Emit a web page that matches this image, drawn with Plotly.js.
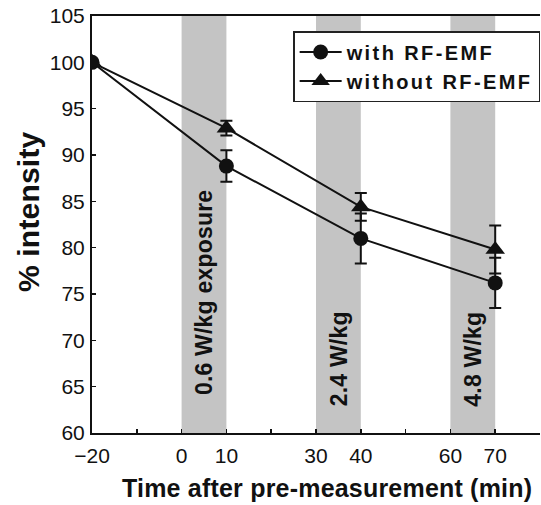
<!DOCTYPE html>
<html>
<head>
<meta charset="utf-8">
<script src="https://cdn.plot.ly/plotly-3.0.1.min.js"></script>
<style>
html, body { margin: 0; padding: 0; background: #fff; }
#chart { width: 541px; height: 505px; }
.legendtext { letter-spacing: 2.4px; }
.annotation-text { letter-spacing: 0.2px; }
</style>
</head>
<body>
<div id="chart"></div>
<script>
// Data
const times = [-20, 10, 40, 70];
const withRF = [100, 88.8, 81.0, 76.2];
const withRFErr = [0, 1.7, 2.7, 2.7];
const withoutRF = [100, 92.9, 84.4, 79.8];
const withoutRFErr = [0, 0.8, 1.5, 2.6];

const exposureStart = [0, 30, 60];
const exposureEnd = [10, 40, 70];
const exposureLabels = ['0.6 W/kg exposure', '2.4 W/kg', '4.8 W/kg'];
const exposureLabelY = [75.1, 68.0, 68.0];

const xTickVals = [-20, -10, 0, 10, 20, 30, 40, 50, 60, 70];
const xTickText = ['\u221220', '', '0', '10', '', '30', '40', '', '60', '70'];
const yTickVals = [60, 65, 70, 75, 80, 85, 90, 95, 100, 105];

const xTitle = 'Time after pre-measurement (min)';
const yTitle = '% intensity';

const FONT = 'Liberation Sans, Arial, sans-serif';
const INK = '#111111';

const traces = [
  {
    x: times, y: withRF, name: 'with RF-EMF', type: 'scatter', mode: 'lines+markers',
    line: {color: INK, width: 2},
    marker: {symbol: 'circle', size: 15, color: INK},
    error_y: {type: 'data', array: withRFErr, visible: true, color: INK, thickness: 2, width: 6}
  },
  {
    x: times, y: withoutRF, name: 'without RF-EMF', type: 'scatter', mode: 'lines+markers',
    line: {color: INK, width: 2},
    marker: {symbol: 'triangle-up', size: 17, color: INK},
    error_y: {type: 'data', array: withoutRFErr, visible: true, color: INK, thickness: 2, width: 6}
  }
];

const shapes = exposureStart.map((s, i) => ({
  type: 'rect', xref: 'x', yref: 'paper', x0: s, x1: exposureEnd[i], y0: 0, y1: 1,
  fillcolor: '#c4c4c4', line: {width: 0}, layer: 'below'
}));

const annotations = exposureLabels.map((t, i) => ({
  x: (exposureStart[i] + exposureEnd[i]) / 2, y: exposureLabelY[i], xref: 'x', yref: 'y',
  text: t, textangle: -90, showarrow: false,
  font: {family: FONT, size: 23, color: INK, weight: 'bold'}
}));

// axis titles placed as annotations to match the reference offsets
annotations.push({
  xref: 'paper', yref: 'paper', x: 0.5246, y: -0.132, xanchor: 'center', yanchor: 'middle',
  text: xTitle, showarrow: false,
  font: {family: FONT, size: 25, color: INK, weight: 'bold'}
});
annotations.push({
  xref: 'paper', yref: 'paper', x: -0.143, y: 0.532, xanchor: 'center', yanchor: 'middle',
  text: yTitle, textangle: -90, showarrow: false,
  font: {family: FONT, size: 30, color: INK, weight: 'bold'}
});

const layout = {
  width: 541, height: 505,
  margin: {l: 92, r: 1, t: 16, b: 72},
  paper_bgcolor: '#ffffff', plot_bgcolor: '#ffffff',
  showlegend: true,
  legend: {
    x: 0.449, y: 0.964, xanchor: 'left', yanchor: 'top',
    bgcolor: '#ffffff', bordercolor: '#222222', borderwidth: 1.5,
    font: {family: FONT, size: 20, color: INK, weight: 'bold'},
    tracegroupgap: 0, itemwidth: 42
  },
  xaxis: {
    range: [-20, 80], tickmode: 'array', tickvals: xTickVals, ticktext: xTickText,
    ticks: 'inside', ticklen: 4, tickwidth: 1.5, tickcolor: INK,
    showline: true, linecolor: INK, linewidth: 2, mirror: true,
    showgrid: false, zeroline: false,
    tickfont: {family: FONT, size: 21, color: INK},
    ticklabelstandoff: 3
  },
  yaxis: {
    range: [60, 105], tickmode: 'array', tickvals: yTickVals,
    ticks: 'inside', ticklen: 4, tickwidth: 1.5, tickcolor: INK,
    showline: true, linecolor: INK, linewidth: 2, mirror: false,
    showgrid: false, zeroline: false,
    tickfont: {family: FONT, size: 21, color: INK},
    ticklabelstandoff: 1
  },
  shapes: shapes,
  annotations: annotations
};

Plotly.newPlot('chart', traces, layout, {displayModeBar: false, staticPlot: true});
</script>
</body>
</html>
